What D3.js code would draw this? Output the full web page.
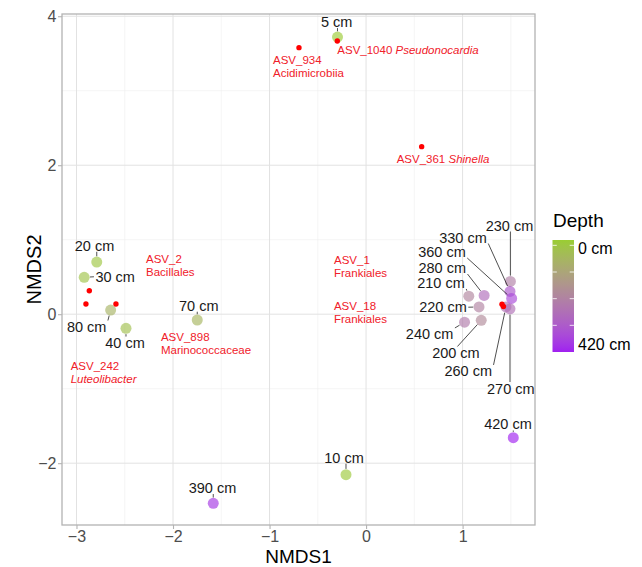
<!DOCTYPE html>
<html><head><meta charset="utf-8">
<script src="https://cdn.jsdelivr.net/npm/d3@7"></script>
<style>body{margin:0;background:#fff} svg{display:block} text{font-family:"Liberation Sans",Arial,Helvetica,sans-serif}</style>
</head><body><svg id="c" width="642" height="567"></svg>
<script>
// ---- data ----
const siteDepths = [5,10,20,30,40,70,80,200,210,220,230,240,260,270,280,330,360,390,420];
const siteNMDS1  = [-0.296,-0.208,-2.79,-2.92,-2.487,-1.749,-2.646,1.193,1.064,1.17,1.495,1.02,1.449,1.491,1.223,1.491,1.508,-1.583,1.525];
const siteNMDS2  = [3.72,-2.155,0.70,0.495,-0.19,-0.078,0.056,-0.082,0.242,0.097,0.44,-0.107,0.097,0.072,0.252,0.306,0.211,-2.539,-1.658];

const asvIds    = ["ASV_934","ASV_1040","ASV_361","ASV_2","ASV_242","ASV_898","ASV_1","ASV_18"];
const asvTaxa   = ["Acidimicrobiia","Pseudonocardia","Shinella","Bacillales","Luteolibacter","Marinococcaceae","Frankiales","Frankiales"];
const asvItalic = [false,true,true,false,true,false,false,false];
const asvNMDS1  = [-0.695,-0.298,0.576,-2.867,-2.902,-2.591,1.408,1.423];
const asvNMDS2  = [3.578,3.668,2.249,0.315,0.137,0.137,0.133,0.103];

const xTicks = [-3,-2,-1,0,1];
const yTicks = [-2,0,2,4];
const depthLimits = [0,420];
const depthLegendLabels = ["0 cm","420 cm"];
const legendTickValues = [100,200,300,400];

// ---- layout (label placement, px offsets from the point) ----
// [dx of label centre, dy of baseline, anchor]
const siteLabelLayout = [
  [-0.8,-10],[-2,-12],[-2.2,-11.3],[31,4.7],[-1,19.7],[1.5,-9.3],[-24,22],
  [-25.3,37.7,"c"],[-27.8,-8.2],[-36,5.5],[-0.9,-50.9],[-34.9,17.3],[-37.7,69.5],[0.8,84.7],
  [-41.9,-22.4],[-47,-48.9],[-69.7,-41.5],[-0.8,-10.3],[-5.3,-8.2]
];
// [dx of text start, dy of first baseline, single line?]
const asvLabelLayout = [
  [-26,16.3,false],[0,13,true],[-25,16,true],[56.7,-27.7,false],[-15.3,66,false],[45,36.7,false],[-168,-40.3,false],[-169.5,3.5,false]
];

// ---- chart ----
const svg = d3.select("#c");
const P = {l:62, r:535, t:14, b:525};
const x = d3.scaleLinear().domain([-3.15,1.75]).range([P.l,P.r]);
const y = d3.scaleLinear().domain([-2.83,4.03]).range([P.b,P.t]);
const color = d3.scaleLinear().domain(depthLimits).range(["#9ACD32","#A020F0"]).interpolate(d3.interpolateLab);

const [x0,x1] = x.domain(), [y0,y1] = y.domain();
const xMinor = xTicks.flatMap(t=>[t-0.5,t+0.5]).filter((v,i,a)=>a.indexOf(v)===i && v>x0 && v<x1);
const yMinor = yTicks.flatMap(t=>[t-1,t+1]).filter((v,i,a)=>a.indexOf(v)===i && v>y0 && v<y1 && !yTicks.includes(v));

const grid = svg.append("g");
grid.selectAll(".xm").data(xMinor).join("line").attr("x1",d=>x(d)).attr("x2",d=>x(d)).attr("y1",P.t).attr("y2",P.b).attr("stroke","#efefef").attr("stroke-width",0.6);
grid.selectAll(".ym").data(yMinor).join("line").attr("y1",d=>y(d)).attr("y2",d=>y(d)).attr("x1",P.l).attr("x2",P.r).attr("stroke","#efefef").attr("stroke-width",0.6);
grid.selectAll(".xM").data(xTicks).join("line").attr("x1",d=>x(d)).attr("x2",d=>x(d)).attr("y1",P.t).attr("y2",P.b).attr("stroke","#e2e2e2").attr("stroke-width",1);
grid.selectAll(".yM").data(yTicks).join("line").attr("y1",d=>y(d)).attr("y2",d=>y(d)).attr("x1",P.l).attr("x2",P.r).attr("stroke","#e2e2e2").attr("stroke-width",1);

// axes
const fmt = d3.format("d");
const xAxis = svg.append("g").attr("transform",`translate(0,${P.b})`)
  .call(d3.axisBottom(x).tickValues(xTicks).tickFormat(fmt).tickSize(4).tickPadding(2.1));
const yAxis = svg.append("g").attr("transform",`translate(${P.l},0)`)
  .call(d3.axisLeft(y).tickValues(yTicks).tickFormat(fmt).tickSize(4).tickPadding(1.5));
[xAxis,yAxis].forEach(a=>{
  a.select(".domain").remove();
  a.selectAll(".tick line").attr("stroke","#b3b3b3").attr("stroke-width",1.1);
  a.selectAll(".tick text").attr("fill","#4d4d4d").attr("font-size",16).attr("font-family","Liberation Sans, Arial, sans-serif");
});

svg.append("text").attr("x",(P.l+P.r)/2).attr("y",563).attr("text-anchor","middle").attr("font-size",19).attr("fill","#000").text("NMDS1");
svg.append("text").attr("transform",`translate(41,${(P.t+P.b)/2}) rotate(-90)`).attr("text-anchor","middle").attr("font-size",20).attr("fill","#000").text("NMDS2");

// sites
const sites = siteDepths.map((d,i)=>({depth:d, px:x(siteNMDS1[i]), py:y(siteNMDS2[i]), lay:siteLabelLayout[i]}));
const R = 5.5;
svg.append("g").selectAll("circle").data(sites).join("circle")
  .attr("cx",d=>d.px).attr("cy",d=>d.py).attr("r",R)
  .attr("fill",d=>color(d.depth)).attr("fill-opacity",0.65);

// site labels + segments
const segG = svg.append("g");
const labG = svg.append("g");
sites.forEach(s=>{
  const cx = s.px + s.lay[0], by = s.py + s.lay[1];
  const t = labG.append("text").attr("x",cx).attr("y",by).attr("text-anchor","middle")
    .attr("font-size",14.5).attr("fill","#1a1a1a").text(s.depth+" cm");
  const w = t.node().getComputedTextLength();
  const bx1 = cx - w/2, bx2 = cx + w/2, bt = by - 10.5, bb = by;
  let sx, sy;
  if (s.lay[2]==="c") { sx = cx; }
  else sx = s.px < bx1 ? bx1 : (s.px > bx2 ? bx2 : (s.py<bt||s.py>bb ? s.px : cx));
  sy = s.py < bt ? bt - 1 : (s.py > bb ? bb + 1 : (bt+bb)/2);
  if (s.px < bx1) sx -= 1.5; else if (s.px > bx2) sx += 1.5;
  const dx = s.px - sx, dy = s.py - sy, L = Math.hypot(dx,dy);
  if (L - R > 1) {
    const ex = s.px - dx/L*(R+0.3), ey = s.py - dy/L*(R+0.3);
    segG.append("line").attr("x1",sx).attr("y1",sy).attr("x2",ex).attr("y2",ey)
      .attr("stroke","#222").attr("stroke-width",0.8);
  }
});

// ASV species points and labels
const asv = asvIds.map((id,i)=>({id, taxon:asvTaxa[i], it:asvItalic[i], px:x(asvNMDS1[i]), py:y(asvNMDS2[i]), lay:asvLabelLayout[i]}));
svg.append("g").selectAll("circle").data(asv).join("circle")
  .attr("cx",d=>d.px).attr("cy",d=>d.py).attr("r",2.7).attr("fill","#ff0000");
const RED = "#f0202a";
asv.forEach(a=>{
  const sx = a.px + a.lay[0], by = a.py + a.lay[1];
  if (a.lay[2]) {
    const t = svg.append("text").attr("x",sx).attr("y",by).attr("font-size",11.5).attr("fill",RED);
    t.append("tspan").text(a.id+" ");
    t.append("tspan").attr("font-style",a.it?"italic":"normal").text(a.taxon);
  } else {
    svg.append("text").attr("x",sx).attr("y",by).attr("font-size",11.5).attr("fill",RED).text(a.id);
    svg.append("text").attr("x",sx).attr("y",by+13).attr("font-size",11.5).attr("fill",RED)
      .attr("font-style",a.it?"italic":"normal").text(a.taxon);
  }
});

// panel border
svg.append("rect").attr("x",P.l).attr("y",P.t).attr("width",P.r-P.l).attr("height",P.b-P.t)
  .attr("fill","none").attr("stroke","#b3b3b3").attr("stroke-width",1.3);

// legend
const LG = {x:552.5, y:240, w:21.5, h:112};
const defs = svg.append("defs");
const grad = defs.append("linearGradient").attr("id","dg").attr("x1",0).attr("x2",0).attr("y1",0).attr("y2",1);
d3.range(0,1.0001,0.05).forEach(f=>grad.append("stop").attr("offset",f).attr("stop-color",color(depthLimits[0]+f*(depthLimits[1]-depthLimits[0]))));
svg.append("text").attr("x",553).attr("y",227).attr("font-size",19).attr("fill","#000").text("Depth");
svg.append("rect").attr("x",LG.x).attr("y",LG.y).attr("width",LG.w).attr("height",LG.h).attr("fill","url(#dg)");
const lt = d3.scaleLinear().domain(depthLimits).range([LG.y+LG.h, LG.y]);
legendTickValues.forEach(v=>{
  svg.append("line").attr("x1",LG.x).attr("x2",LG.x+4.3).attr("y1",lt(v)).attr("y2",lt(v)).attr("stroke","#fff").attr("stroke-opacity",0.8);
  svg.append("line").attr("x1",LG.x+LG.w-4.3).attr("x2",LG.x+LG.w).attr("y1",lt(v)).attr("y2",lt(v)).attr("stroke","#fff").attr("stroke-opacity",0.8);
});
svg.append("text").attr("x",578).attr("y",LG.y+13.5).attr("font-size",16).attr("fill","#000").text(depthLegendLabels[0]);
svg.append("text").attr("x",578).attr("y",LG.y+LG.h-2.5).attr("font-size",16).attr("fill","#000").text(depthLegendLabels[1]);
</script></body></html>
